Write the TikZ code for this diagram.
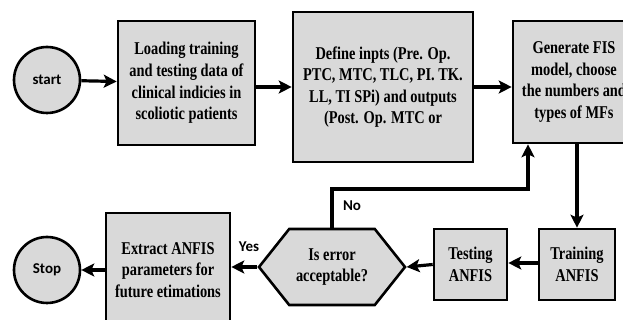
\documentclass[tikz,border=0pt]{standalone}
\usepackage{fontspec}
\setmainfont{Liberation Serif}
\newfontfamily\boxfont{Liberation Serif}[FakeStretch=0.8]
\newfontfamily\lblfont{Carlito}
\usetikzlibrary{shapes.symbols,arrows.meta}
\definecolor{boxgray}{RGB}{217,217,217}

\tikzset{
  blk/.style={draw,line width=1.3pt,fill=boxgray,align=center,inner sep=0pt,
    font=\boxfont\bfseries\fontsize{9}{10.8}\selectfont},
  term/.style={circle,draw,line width=1.3pt,fill=boxgray,minimum size=33pt,inner sep=0pt,
    font=\lblfont\bfseries\fontsize{7.5}{9}\selectfont},
  arr/.style={line width=1.6pt,-{Stealth[length=6.5pt,width=6.5pt,inset=1.5pt]}},
  lbl/.style={font=\lblfont\bfseries\fontsize{7.5}{9}\selectfont}
}

\begin{document}
\begin{tikzpicture}[x=0.5pt,y=-0.5pt]
        \useasboundingbox (0,0) rectangle (623,320);
        \clip (0,0) rectangle (623,320);
        % upper row
        \node[term] (start) at (47,80) {start};
        \node[blk,minimum width=68.5pt,minimum height=62pt] (load) at (186.5,83)
            {Loading training\\and testing data of\\clinical indicies in\\scoliotic patients};
        \node[blk,minimum width=90pt,minimum height=75pt] (define) at (383,87)
            {Define inpts (Pre. Op.\\PTC, MTC, TLC, PI. TK.\\LL, TI SPi) and outputs\\(Post. Op. MTC or};
        \node[blk,minimum width=61pt,minimum height=61pt] (gen) at (574,82)
            {Generate FIS\\model, choose\\the numbers and\\types of MFs};
        % lower row
        \node[blk,minimum width=38pt,minimum height=35.5pt] (train) at (577,264.5) {Training\\ANFIS};
        \node[blk,minimum width=36.5pt,minimum height=35.5pt] (test) at (470.5,264.5) {Testing\\ANFIS};
        \node[blk,signal,signal to=east and west,signal pointer angle=103,
              minimum width=73pt,minimum height=38pt] (dec) at (332,267) {Is error\\acceptable?};
        \node[blk,minimum width=62pt,minimum height=57pt] (extract) at (168,270)
            {Extract ANFIS\\parameters for\\future etimations};
        \node[term] (stop) at (47,270) {Stop};

        \coordinate (bend) at (528,189);

        \draw[arr] (start) -- (load);
        \draw[arr] (define.west -| load.east) -- (define.west);
        \draw[arr] (define.east) -- (define.east -| gen.west);
        \draw[arr] (gen.south -| train) -- (train.north);
        \draw[arr] (train.west |- 0,263) -- (test.east |- 0,263);
        \draw[arr] (test.west) -- (dec.east);
        \draw[arr] (dec.west) -- (dec.west -| extract.east);
        \draw[arr] (extract.west |- stop) -- (stop.east);
        \draw[arr] (dec.north) |- (bend) -- (bend |- gen.south);

        \node[lbl] (no) at (352,206) {No};
        \node[lbl] (yes) at (249,247) {Yes};
\end{tikzpicture}
\end{document}
